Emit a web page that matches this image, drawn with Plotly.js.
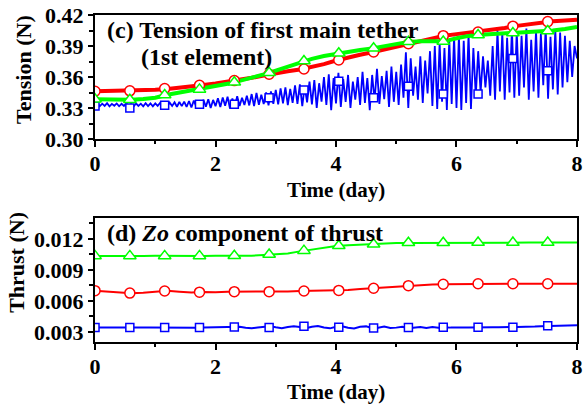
<!DOCTYPE html>
<html>
<head>
<meta charset="utf-8">
<script src="https://cdn.plot.ly/plotly-3.0.1.min.js"></script>
<style>html,body{margin:0;padding:0;background:#fff;}#chart{width:584px;height:408px;}</style>
</head>
<body>
<div id="chart"></div>
<script>
// ---- Data ----
// Panel (c): tension
var tensionRed = [0.3462,0.3463,0.3465,0.3466,0.3470,0.3476,0.3485,0.3495,0.3507,0.3522,
  0.3537,0.3553,0.3572,0.3592,0.3615,0.3638,0.3655,0.3672,0.3695,0.3725,
  0.3760,0.3790,0.3815,0.3840,0.3868,0.3895,0.3920,0.3945,0.3975,0.4000,
  0.4015,0.4028,0.4040,0.4055,0.4075,0.4095,0.4110,0.4128,0.4140,0.4148,0.4155];
var tensionGreen = [0.3385,0.3382,0.3380,0.3380,0.3388,0.3400,0.3428,0.3448,0.3468,0.3487,
  0.3510,0.3535,0.3562,0.3590,0.3625,0.3662,0.3700,0.3740,0.3775,0.3803,
  0.3825,0.3845,0.3862,0.3877,0.3900,0.3922,0.3940,0.3945,0.3942,0.3945,
  0.3975,0.3998,0.4008,0.4015,0.4022,0.4027,0.4033,0.4042,0.4050,0.4065,0.4085];
var tensionBlue = [
  0.3330,0.3345,0.3318,0.3342,0.3320,0.3346,0.3316,0.3340,0.3322,0.3344,0.3317,0.3341,0.3320,0.3347,0.3318,0.3343,0.3315,0.3345,0.3320,0.3342,0.3316,0.3346,0.3319,0.3344,0.3317,
  0.3345,0.3320,0.3348,0.3318,0.3350,0.3315,0.3352,0.3320,0.3355,0.3312,0.3358,0.3318,0.3362,0.3310,0.3368,0.3305,0.3372,0.3315,0.3375,0.3308,0.3380,0.3312,0.3385,0.3300,0.3378,
  0.3318,0.3395,0.3310,0.3402,0.3322,0.3410,0.3295,0.3392,0.3315,0.3415,0.3320,0.3400,0.3330,0.3420,0.3325,0.3435,0.3318,0.3445,0.3330,0.3428,0.3338,0.3450,0.3325,0.3460,0.3340,
  0.3475,0.3335,0.3490,0.3345,0.3500,0.3328,0.3485,0.3350,0.3520,0.3340,0.3530,0.3318,0.3510,0.3355,0.3555,0.3335,0.3570,0.3300,0.3540,0.3362,0.3600,0.3330,0.3625,0.3280,0.3590,
  0.3345,0.3640,0.3310,0.3580,0.3360,0.3620,0.3300,0.3555,0.3380,0.3600,0.3330,0.3650,0.3350,0.3590,0.3280,0.3620,0.3370,0.3680,0.3340,0.3610,0.3385,0.3660,0.3310,0.3700,0.3360,
  0.3650,0.3330,0.3720,0.3400,0.3840,0.3300,0.3780,0.3420,0.3700,0.3380,0.3800,0.3350,0.3760,0.3440,0.3850,0.3320,0.3900,0.3290,0.3930,0.3360,0.3880,0.3280,0.3960,0.3340,0.3990,
  0.3300,0.4000,0.3280,0.3950,0.3350,0.4010,0.3290,0.3880,0.3420,0.3850,0.3450,0.3800,0.3500,0.3760,0.3420,0.3900,0.3380,0.4050,0.3460,0.4030,0.3380,0.3980,0.3450,0.4060,0.3400,
  0.4040,0.3420,0.4000,0.3500,0.4070,0.3380,0.3960,0.3460,0.4050,0.3400,0.4020,0.3520,0.4080,0.3390,0.3990,0.3480,0.4060,0.3430,0.4030,0.3500,0.4000,0.3550,0.3950,0.3600,0.3900,0.3780];

// Marker positions (days) and marker values
var markerDays = [0,0.578,1.156,1.734,2.312,2.89,3.468,4.046,4.624,5.202,5.78,6.358,6.936,7.514];
var tensionRedMk   = [0.3462,0.3466,0.3489,0.3520,0.3565,0.3627,0.3677,0.3765,0.3842,0.3922,0.4000,0.4035,0.4092,0.4136];
var tensionGreenMk = [0.3385,0.3380,0.3426,0.3480,0.3550,0.3642,0.3755,0.3830,0.3878,0.3942,0.3943,0.4007,0.4025,0.4045];
var tensionBlueMk  = [0.3320,0.3300,0.3326,0.3336,0.3336,0.3400,0.3474,0.3560,0.3400,0.3510,0.3435,0.3435,0.3780,0.3660];

// Panel (d): Zo component of thrust
var thrustGreen = [0.01035,0.01037,0.01036,0.01038,0.01036,0.01037,0.01035,0.01038,0.01036,0.01035,
  0.01037,0.01035,0.01038,0.01038,0.01045,0.01052,0.01060,0.01080,0.01098,0.01118,
  0.01132,0.01140,0.01146,0.01150,0.01155,0.01160,0.01162,0.01163,0.01164,0.01164,
  0.01164,0.01165,0.01165,0.01165,0.01165,0.01165,0.01165,0.01165,0.01165,0.01165,0.01165];
var thrustRed = [0.00700,0.00690,0.00678,0.00675,0.00680,0.00690,0.00698,0.00690,0.00683,0.00686,
  0.00684,0.00690,0.00690,0.00688,0.00690,0.00690,0.00692,0.00696,0.00698,0.00700,
  0.00702,0.00706,0.00715,0.00723,0.00732,0.00740,0.00748,0.00754,0.00759,0.00762,
  0.00764,0.00766,0.00767,0.00767,0.00767,0.00767,0.00767,0.00767,0.00767,0.00767,0.00767];
var thrustBlue = [0.00342,0.00343,0.00342,0.00341,0.00341,0.00342,0.00342,0.00343,0.00343,0.00342,
  0.00341,0.00342,0.00344,0.00343,0.00342,0.00341,0.00340,0.00341,0.00342,0.00343,0.00344,0.00346,0.00348,
  0.00352,0.00350,0.00340,0.00336,0.00344,0.00352,0.00356,0.00345,0.00336,0.00348,0.00356,0.00347,0.00337,
  0.00350,0.00358,0.00344,0.00335,0.00350,0.00356,0.00340,0.00334,0.00350,0.00354,0.00336,0.00340,0.00352,
  0.00338,0.00342,0.00350,0.00337,0.00345,0.00349,0.00338,
  0.00347,0.00340,0.00346,0.00342,0.00345,0.00344,0.00343,0.00345,0.00344,0.00344,0.00345,0.00345,0.00345,
  0.00346,0.00346,0.00347,0.00349,0.00352,0.00355,0.00357,0.00359,0.00361,0.00362,0.00364,0.00365];
var thrustGreenMk = [0.01036,0.01036,0.01036,0.01036,0.01038,0.01049,0.01087,0.01135,0.01149,0.01163,0.01164,0.01165,0.01165,0.01165];
var thrustRedMk   = [0.00700,0.00676,0.00697,0.00685,0.00690,0.00690,0.00697,0.00702,0.00723,0.00748,0.00762,0.00767,0.00767,0.00767];
var thrustBlueMk  = [0.00342,0.00342,0.00343,0.00342,0.00348,0.00342,0.00355,0.00345,0.00338,0.00342,0.00345,0.00345,0.00346,0.00361];

var xTickVals = [0,2,4,6,8];
var tensionTicks = [0.30,0.33,0.36,0.39,0.42];
var thrustTicks = [0.003,0.006,0.009,0.012];

// ---- Styles ----
var RED = '#ff0000', GREEN = '#00ff00', BLUE = '#0000ff';
var FONT = 'Liberation Serif, Times New Roman, serif';

function lineTrace(y, dx, color, width, xa, ya) {
  return {type:'scatter', mode:'lines', x0:0, dx:dx, y:y, xaxis:xa, yaxis:ya,
    line:{color:color, width:width}, hoverinfo:'skip', showlegend:false};
}
function markTrace(y, color, symbol, size, xa, ya) {
  return {type:'scatter', mode:'markers', x:markerDays, y:y, xaxis:xa, yaxis:ya,
    marker:{symbol:symbol, size:size, color:'#ffffff', line:{color:color, width:1.5}},
    hoverinfo:'skip', showlegend:false};
}

var traces = [
  lineTrace(tensionBlue, 0.04, BLUE, 1.8, 'x', 'y'),
  lineTrace(tensionRed, 0.2, RED, 4, 'x', 'y'),
  lineTrace(tensionGreen, 0.2, GREEN, 4, 'x', 'y'),
  markTrace(tensionBlueMk, BLUE, 'square', 8, 'x', 'y'),
  markTrace(tensionRedMk, RED, 'circle', 10, 'x', 'y'),
  markTrace(tensionGreenMk, GREEN, 'triangle-up', 11, 'x', 'y'),
  lineTrace(thrustBlue, 0.1, BLUE, 2, 'x2', 'y2'),
  lineTrace(thrustRed, 0.2, RED, 2, 'x2', 'y2'),
  lineTrace(thrustGreen, 0.2, GREEN, 2, 'x2', 'y2'),
  markTrace(thrustBlueMk, BLUE, 'square', 8, 'x2', 'y2'),
  markTrace(thrustRedMk, RED, 'circle', 10, 'x2', 'y2'),
  markTrace(thrustGreenMk, GREEN, 'triangle-up', 11, 'x2', 'y2')
];

var tickFont = {family:FONT, size:22, color:'#000', weight:700};
function xAxis(anchor) {
  return {domain:[0.1627,0.988], range:[0,8], anchor:anchor, tickvals:xTickVals, ticktext:xTickVals.map(String),
    showline:true, mirror:true, linewidth:2, linecolor:'#000', ticks:'outside', ticklen:6, tickwidth:2,
    tickcolor:'#000', showgrid:false, zeroline:false, tickfont:tickFont, ticklabelstandoff:-2,
    minor:{ticks:'outside', dtick:1, tick0:0, ticklen:3, tickwidth:2, tickcolor:'#000', showgrid:false}};
}
function yAxis(anchor, domain, range, ticks, fmt, minorDt) {
  return {domain:domain, range:range, anchor:anchor, tickvals:ticks, tickformat:fmt,
    showline:true, mirror:true, linewidth:2, linecolor:'#000', ticks:'outside', ticklen:5, tickwidth:2,
    tickcolor:'#000', showgrid:false, zeroline:false, tickfont:tickFont,
    minor:{ticks:'outside', dtick:minorDt, tick0:ticks[0], ticklen:4, tickwidth:2, tickcolor:'#000', showgrid:false}};
}

function ann(text, x, y, size, xanchor, angle) {
  return {text:text, xref:'paper', yref:'paper', x:x, y:y, xanchor:xanchor, yanchor:'middle',
    showarrow:false, textangle:angle||0, font:{family:FONT, size:size, color:'#000', weight:700}};
}

var layout = {
  width:584, height:408, margin:{l:0,r:0,t:0,b:0}, paper_bgcolor:'#fff', plot_bgcolor:'#fff',
  xaxis: xAxis('y'),
  yaxis: yAxis('x', [0.6593,0.9632], [0.30,0.42], tensionTicks, '.2f', 0.015),
  xaxis2: xAxis('y2'),
  yaxis2: yAxis('x2', [0.1618,0.4657], [0.00203,0.01403], thrustTicks, '.3f', 0.0015),
  annotations: [
    ann('(c) Tension of first main tether', 0.1798, 0.9265, 24, 'left'),
    ann('(1st element)', 0.238, 0.860, 24, 'left'),
    ann('(d) <i>Zo</i> component of thrust', 0.1798, 0.4289, 24, 'left'),
    ann('Time (day)', 0.5753, 0.5343, 21, 'center'),
    ann('Time (day)', 0.5753, 0.0392, 21, 'center'),
    ann('Tension (N)', 0.041, 0.831, 22, 'center', -90),
    ann('Thrust (N)', 0.029, 0.358, 22, 'center', -90)
  ]
};

Plotly.newPlot('chart', traces, layout, {staticPlot:true, displayModeBar:false});
</script>
</body>
</html>
